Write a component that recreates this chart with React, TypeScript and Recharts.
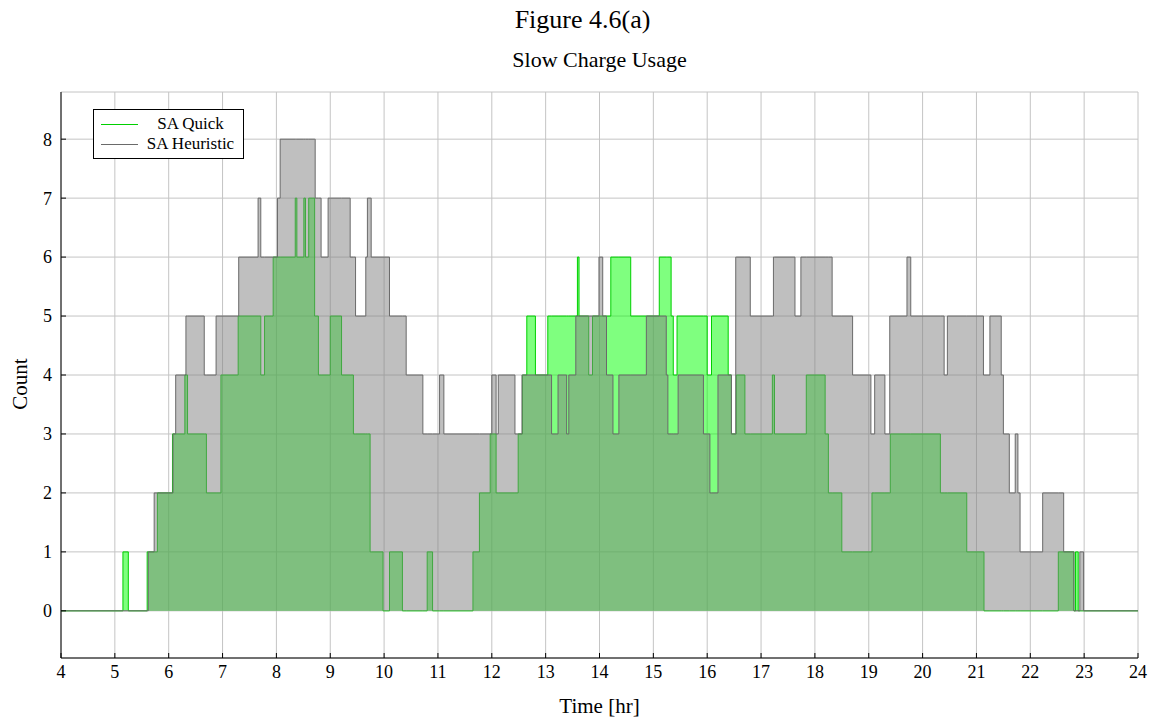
import { ComposedChart, Area, XAxis, YAxis, CartesianGrid } from 'recharts';

// step data: count holds from each time until the next one
const quickTimes = [
  4.0, 5.15, 5.25, 5.6, 5.79, 6.07, 6.3, 6.35, 6.7, 6.97, 7.29, 7.71, 7.78, 7.94,
  8.35, 8.38, 8.51, 8.54, 8.6, 8.71, 8.78, 9.0, 9.21, 9.43, 9.74, 9.98, 10.1, 10.34,
  10.8, 10.9, 11.65, 11.77, 11.97, 12.08, 12.49, 12.57, 12.65, 12.81, 13.04, 13.59,
  13.62, 13.8, 13.87, 14.21, 14.58, 15.11, 15.33, 15.37, 15.44, 16.0, 16.08, 16.39,
  16.45, 16.54, 16.7, 17.21, 17.25, 17.84, 18.19, 18.25, 18.5, 19.06, 19.4, 20.33,
  20.82, 21.14, 22.52, 22.81, 22.84, 22.89, 24.0,
];
const quickCounts = [
  0, 1, 0, 1, 2, 3, 4, 3, 2, 4, 5, 4, 5, 6,
  7, 6, 7, 6, 7, 5, 4, 5, 4, 3, 1, 0, 1, 0,
  1, 0, 1, 2, 3, 2, 3, 4, 5, 4, 5, 6,
  5, 4, 5, 6, 5, 6, 5, 4, 5, 4, 5, 4,
  3, 4, 3, 4, 3, 4, 3, 2, 1, 2, 3, 2,
  1, 0, 1, 0, 1, 0, 0,
];

const heurTimes = [
  4.0, 5.62, 5.73, 6.08, 6.13, 6.32, 6.66, 6.88, 7.3, 7.66, 7.71, 8.02, 8.07, 8.72,
  8.83, 8.96, 9.37, 9.47, 9.66, 9.69, 9.76, 10.1, 10.41, 10.72, 11.03, 11.11, 12.0,
  12.08, 12.12, 12.43, 12.56, 13.11, 13.23, 13.39, 13.43, 13.56, 13.99, 14.06, 14.13,
  14.25, 14.36, 14.87, 15.24, 15.27, 15.46, 15.93, 16.05, 16.2, 16.45, 16.53, 16.8,
  17.23, 17.63, 17.74, 18.32, 18.7, 19.04, 19.11, 19.3, 19.39, 19.71, 19.78, 20.4,
  20.46, 21.13, 21.25, 21.46, 21.5, 21.61, 21.72, 21.77, 21.81, 22.23, 22.62, 22.81,
  22.92, 22.99, 24.0,
];
const heurCounts = [
  0, 1, 2, 3, 4, 5, 4, 5, 6, 7, 6, 7, 8, 7,
  6, 7, 6, 5, 6, 7, 6, 5, 4, 3, 4, 3, 4,
  3, 4, 3, 4, 3, 4, 3, 4, 5, 6, 5, 4,
  3, 4, 5, 4, 3, 4, 3, 2, 4, 3, 6, 5,
  6, 5, 6, 5, 4, 3, 4, 3, 5, 6, 5, 4,
  5, 4, 5, 4, 3, 2, 3, 2, 1, 2, 1, 0,
  1, 0, 0,
];

const xTicks = [4, 5, 6, 7, 8, 9, 10, 11, 12, 13, 14, 15, 16, 17, 18, 19, 20, 21, 22, 23, 24];
const yTicks = [0, 1, 2, 3, 4, 5, 6, 7, 8];

const countAt = (times: number[], counts: number[], t: number) => {
  let v = counts[0];
  for (let i = 0; i < times.length; i++) {
    if (times[i] <= t) v = counts[i];
  }
  return v;
};

const allTimes = Array.from(new Set([...quickTimes, ...heurTimes])).sort((a, b) => a - b);
const chartData = allTimes.map((t) => ({
  time: t,
  quick: countAt(quickTimes, quickCounts, t),
  heuristic: countAt(heurTimes, heurCounts, t),
}));

const FONT = '"Liberation Serif", "DejaVu Serif", serif';
const noTick = () => <g />;

export default function App() {
  return (
    <div style={{ position: 'absolute', left: 0, top: 0, width: 1160, height: 721, background: '#fff', fontFamily: FONT, color: '#000' }}>
      <div style={{ position: 'absolute', left: 0, width: 1165, top: 6, textAlign: 'center', fontSize: 26, lineHeight: '28px' }}>
        Figure 4.6(a)
      </div>
      <div style={{ position: 'absolute', left: 0, width: 1199, top: 48, textAlign: 'center', fontSize: 22, lineHeight: '24px' }}>
        Slow Charge Usage
      </div>
      <ComposedChart
        width={1160}
        height={721}
        data={chartData}
        margin={{ top: 92, right: 22, bottom: 0, left: 0 }}
      >
        <CartesianGrid xAxisId="b" yAxisId="l" stroke="#c4c4c4" strokeWidth={1} />
        <XAxis
          xAxisId="b"
          dataKey="time"
          type="number"
          domain={[4, 24]}
          ticks={xTicks}
          height={63}
          stroke="#000"
          tickSize={-5}
          tickMargin={12}
          tick={{ fill: '#000', fontSize: 18, fontFamily: FONT }}
          allowDataOverflow
        />
        <XAxis xAxisId="t" orientation="top" type="number" domain={[4, 24]} ticks={xTicks} height={0} stroke="#000" tickSize={-5} tick={noTick} />
        <YAxis
          yAxisId="l"
          type="number"
          domain={[-0.8, 8.8]}
          ticks={yTicks}
          width={61}
          stroke="#000"
          tickSize={-5}
          tickMargin={14}
          tick={{ fill: '#000', fontSize: 18, fontFamily: FONT }}
          allowDataOverflow
        />
        <YAxis yAxisId="r" orientation="right" type="number" domain={[-0.8, 8.8]} ticks={yTicks} width={0} stroke="#000" tickSize={-5} tick={noTick} />
        <Area
          xAxisId="b"
          yAxisId="l"
          type="stepAfter"
          dataKey="quick"
          name="SA Quick"
          baseValue={0}
          stroke="#00d000"
          strokeWidth={1}
          fill="#00ff00"
          fillOpacity={0.5}
          isAnimationActive={false}
          dot={false}
          activeDot={false}
        />
        <Area
          xAxisId="b"
          yAxisId="l"
          type="stepAfter"
          dataKey="heuristic"
          name="SA Heuristic"
          baseValue={0}
          stroke="#6a6a6a"
          strokeWidth={1}
          fill="#808080"
          fillOpacity={0.5}
          isAnimationActive={false}
          dot={false}
          activeDot={false}
        />
      </ComposedChart>
      <div style={{ position: 'absolute', left: 20, top: 384, transform: 'translate(-50%, -50%) rotate(-90deg)', fontSize: 21, lineHeight: '22px', whiteSpace: 'nowrap' }}>
        Count
      </div>
      <div style={{ position: 'absolute', left: 0, width: 1199, top: 694, textAlign: 'center', fontSize: 21, lineHeight: '24px' }}>
        Time [hr]
      </div>
      <div
        style={{
          position: 'absolute', left: 93, top: 109, width: 151, height: 50,
          border: '1px solid #000', background: '#fff', fontSize: 17, lineHeight: '20px', padding: '4px 0',
          boxSizing: 'border-box',
        }}
      >
        {[
          { label: 'SA Quick', color: '#00d000' },
          { label: 'SA Heuristic', color: '#6a6a6a' },
        ].map((s) => (
          <div key={s.label} style={{ display: 'flex', alignItems: 'center', height: 20 }}>
            <div style={{ width: 37, marginLeft: 7, borderTop: `1px solid ${s.color}` }} />
            <div style={{ flex: 1, textAlign: 'center', whiteSpace: 'nowrap' }}>{s.label}</div>
          </div>
        ))}
      </div>
    </div>
  );
}
